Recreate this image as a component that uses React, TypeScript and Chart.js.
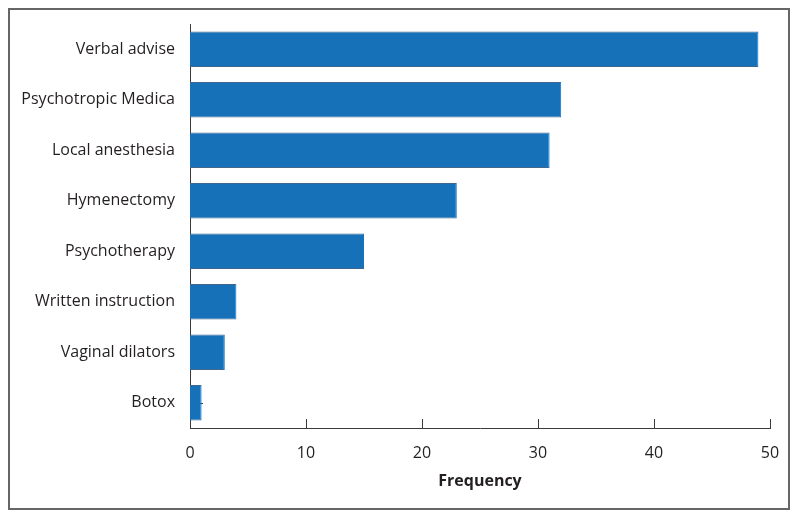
import React, { useEffect, useRef } from "react";
import { Chart, registerables } from "chart.js";

Chart.register(...registerables);

const categories = [
  "Verbal advise",
  "Psychotropic Medica",
  "Local anesthesia",
  "Hymenectomy",
  "Psychotherapy",
  "Written instruction",
  "Vaginal dilators",
  "Botox",
];
const frequencies = [49, 32, 31, 23, 15, 4, 3, 1];
const xMin = 0;
const xMax = 50;
const xStep = 10;
const xTitle = "Frequency";

const AXIS_COLOR = "#3a3a3a";
const TEXT_COLOR = "#231f20";
const FONT = "'Open Sans', 'Noto Sans', sans-serif";

const innerTicks = {
  id: "innerTicks",
  beforeDatasetsDraw(chart: any) {
    const { ctx, scales, chartArea } = chart;
    const x = scales.x;
    const y = scales.y;
    ctx.save();
    ctx.strokeStyle = AXIS_COLOR;
    ctx.lineWidth = 1;
    ctx.beginPath();
    x.ticks.forEach((t: any) => {
      const px = Math.round(x.getPixelForValue(t.value)) + 0.5;
      ctx.moveTo(px, chartArea.bottom);
      ctx.lineTo(px, chartArea.bottom - 9);
    });
    y.ticks.forEach((_t: any, i: number) => {
      const py = Math.round(y.getPixelForTick(i)) + 0.5;
      ctx.moveTo(chartArea.left, py);
      ctx.lineTo(chartArea.left + 13, py);
    });
    ctx.stroke();
    ctx.restore();
  },
};

export default function App() {
  const ref = useRef<HTMLCanvasElement | null>(null);
  useEffect(() => {
    if (!ref.current) return;
    const chart = new Chart(ref.current, {
      type: "bar",
      data: {
        labels: categories,
        datasets: [
          {
            data: frequencies,
            backgroundColor: "#1771b9",
            borderColor: "#40688e",
            borderWidth: 1,
            categoryPercentage: 1,
            barPercentage: 0.7,
          },
        ],
      },
      options: {
        indexAxis: "y",
        animation: false,
        responsive: false,
        maintainAspectRatio: false,
        events: [],
        layout: { padding: { top: 14, right: 18, left: 0, bottom: 0 } },
        plugins: { legend: { display: false }, tooltip: { enabled: false } },
        scales: {
          x: {
            type: "linear",
            min: xMin,
            max: xMax,
            grid: { display: false, drawTicks: false },
            border: { display: true, color: AXIS_COLOR, width: 1 },
            ticks: {
              stepSize: xStep,
              padding: 16,
              color: TEXT_COLOR,
              font: { family: FONT, size: 16 },
              maxRotation: 0,
            },
            title: {
              display: true,
              text: xTitle,
              color: TEXT_COLOR,
              font: { family: FONT, size: 16, weight: "bold" },
              padding: { top: 0, bottom: 17 },
            },
            afterFit: (s: any) => {
              s.height = 80;
              s.paddingLeft = 0;
              s.paddingRight = 0;
            },
          },
          y: {
            type: "category",
            grid: { display: false, drawTicks: false },
            border: { display: true, color: AXIS_COLOR, width: 1 },
            ticks: {
              padding: 15,
              color: TEXT_COLOR,
              font: { family: FONT, size: 16 },
            },
            afterFit: (s: any) => {
              s.width = 180;
              s.paddingTop = 0;
              s.paddingBottom = 0;
            },
          },
        },
      },
      plugins: [innerTicks],
    });
    return () => chart.destroy();
  }, []);

  return (
    <div
      style={{
        width: 778,
        height: 498,
        border: "2px solid #666",
        background: "#fff",
      }}
    >
      <canvas ref={ref} width={778} height={498} style={{ display: "block", width: 778, height: 498 }} />
    </div>
  );
}
